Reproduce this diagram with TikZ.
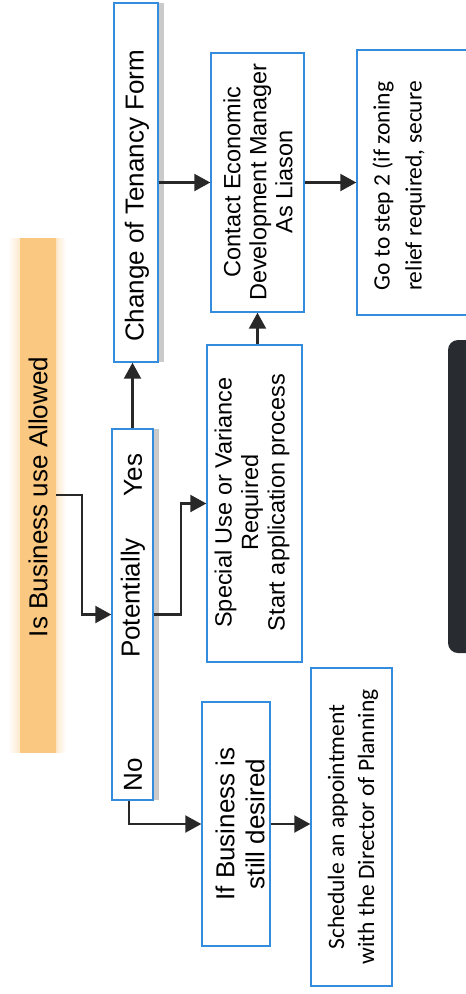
\documentclass[tikz,border=0pt]{standalone}
\usepackage{fontspec}
\setmainfont{Liberation Sans}
\newfontfamily\calfont{Carlito}
\usetikzlibrary{arrows.meta,shadows}
\definecolor{boxblue}{RGB}{52,140,222}
\definecolor{linegray}{RGB}{40,40,40}
\definecolor{barorange}{RGB}{250,200,128}
\definecolor{barpink}{RGB}{248,158,145}
\definecolor{darkpanel}{RGB}{40,44,48}
\begin{document}
\begin{tikzpicture}[x=1pt,y=-1pt,
  box/.style={draw=boxblue, line width=1.4pt, fill=white, rectangle, inner sep=0pt},
  shbox/.style={box, drop shadow={shadow xshift=6pt, shadow yshift=0pt, opacity=0.35, fill=black!60}},
  txt/.style={rotate=90, align=center, inner sep=0pt},
  big/.style={font=\fontsize{26}{30}\selectfont},
  mid/.style={font=\fontsize{23.5}{26}\selectfont},
  cal/.style={font=\calfont\fontsize{23.5}{30}\selectfont},
  arr/.style={draw=linegray, line width=2.2pt, -{Triangle[length=16pt,width=17pt]}}
]
\useasboundingbox (0,0) rectangle (466,994);

% title bar
\shade[left color=white, right color=barorange!40] (8,238) rectangle (20,752);
\shade[left color=barorange!40, right color=white] (56,238) rectangle (66,752);
\node[rectangle, inner sep=0pt, minimum width=36pt, minimum height=514pt,
      left color=barorange, middle color=barpink, right color=barorange] (bar) at (38,495) {};
\node[txt,big] (bar-t) at (38,497) {Is Business use Allowed};

% dark panel at right edge
\node[rectangle, fill=darkpanel, rounded corners=10pt, inner sep=0pt,
      minimum width=34pt, minimum height=313pt] (panel) at (465,496.5) {};

% boxes
\node[shbox, minimum width=44pt, minimum height=359pt] (tenancy) at (136,182.5) {};
\node[txt,big] (tenancy-t) at (137,196) {Change of Tenancy Form};

\node[shbox, minimum width=41pt, minimum height=371pt] (pot) at (132.5,614.5) {};
\node[txt,big] (yes-t) at (133,475) {Yes};
\node[txt,big] (pot-t) at (133,598) {Potentially};
\node[txt,big] (no-t) at (133,774.5) {No};

\node[box, minimum width=93pt, minimum height=259pt] (contact) at (257.5,182.5) {};
\node[txt,mid] (contact-t) at (258,182) {Contact Economic\\Development Manager\\As Liason};

\node[box, minimum width=123pt, minimum height=265pt] (go) at (418.5,182.5) {};
\node[txt,cal,font=\calfont\fontsize{23.5}{32}\selectfont] (go-t) at (399,186) {Go to step 2 (if zoning\\relief required, secure};

\node[box, minimum width=95pt, minimum height=317pt] (special) at (254.5,503.5) {};
\node[txt,mid,font=\fontsize{23.5}{26.5}\selectfont] (special-t) at (252,502.5) {Special Use or Variance\\Required\\Start application process};

\node[box, minimum width=68pt, minimum height=244pt] (ifbiz) at (236,824) {};
\node[txt,big] (ifbiz-t) at (240,824) {If Business is\\still desired};

\node[box, minimum width=81pt, minimum height=318pt] (sched) at (351.5,827) {};
\node[txt,cal] (sched-t) at (353,827) {Schedule an appointment\\with the Director of Planning};

% connectors
\draw[arr] (bar.east) -- ++(26,0) |- (pot.west);
\draw[arr] (pot.north) -- (tenancy.south -| pot.north);
\draw[arr] (pot.east) -- ++(27,0) |- (special.west);
\draw[arr] (contact.south |- special.north) -- (contact.south);
\draw[arr] (tenancy.east) -- (contact.west);
\draw[arr] (contact.east) -- (go.west);
\draw[arr] ([xshift=-3.5pt]pot.south) |- (ifbiz.west);
\draw[arr] (ifbiz.east) -- (ifbiz.east -| sched.west);
\end{tikzpicture}
\end{document}
